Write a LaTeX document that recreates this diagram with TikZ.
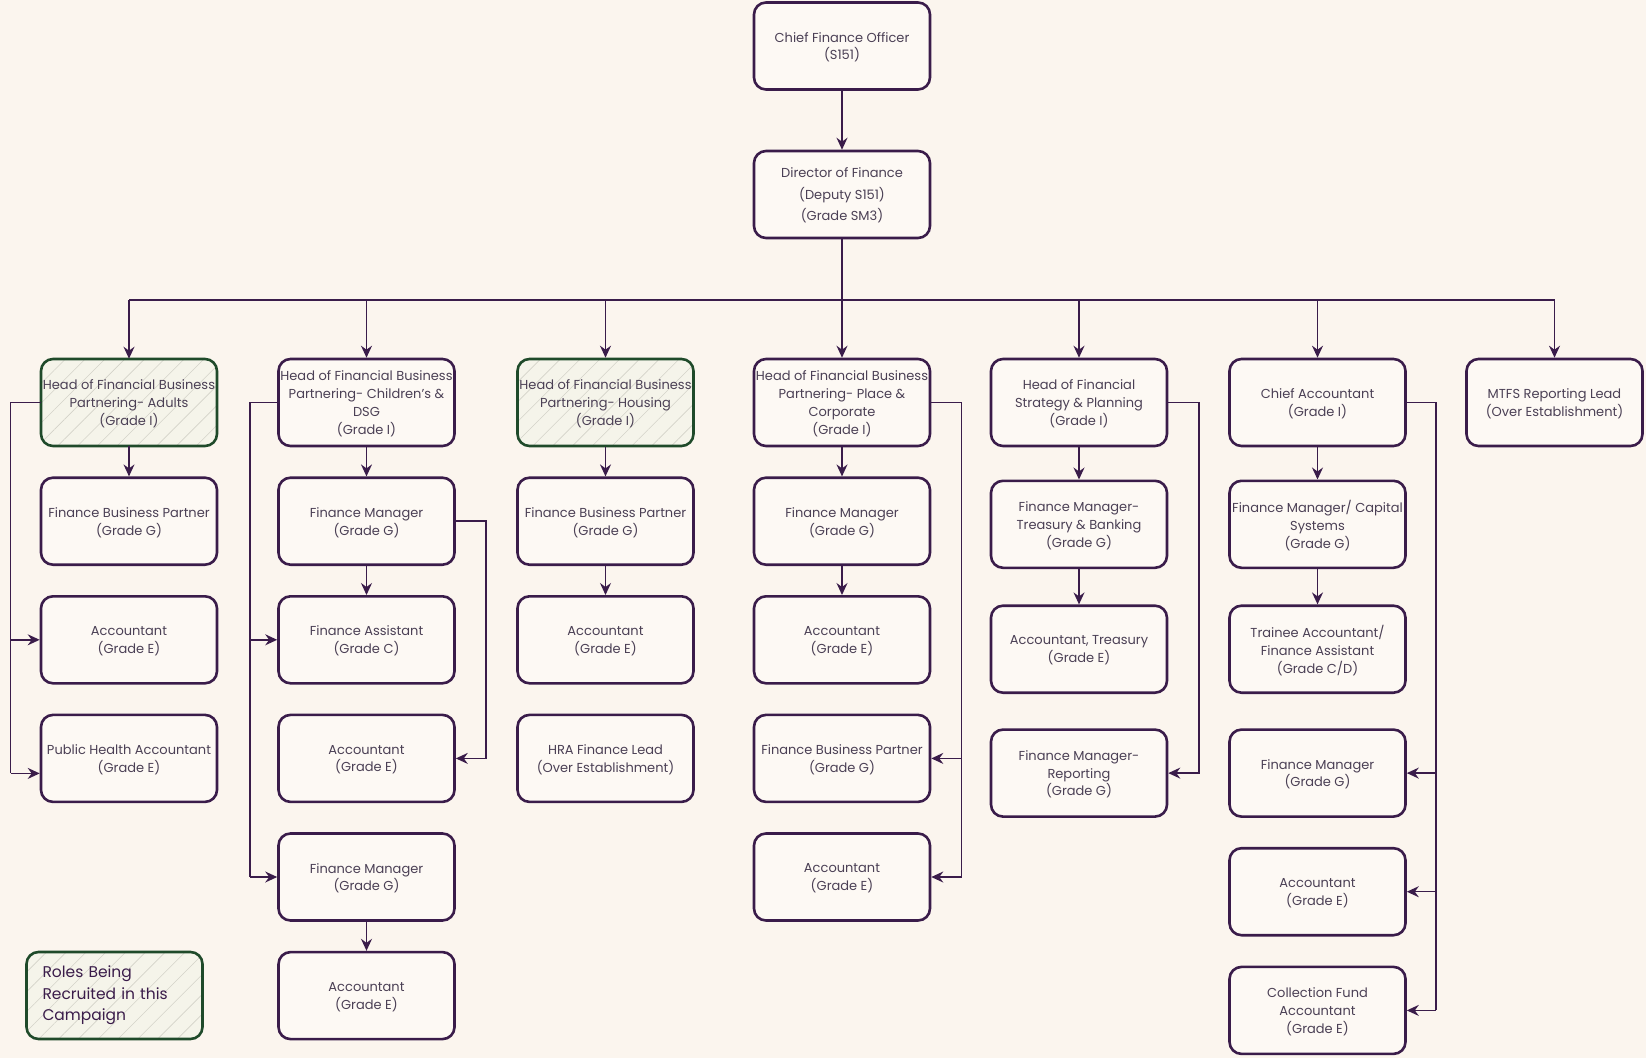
\documentclass[tikz,border=0pt]{standalone}
\usepackage{fontspec}
\setmainfont{Poppins}
\usetikzlibrary{arrows.meta,patterns.meta}
\definecolor{bgc}{HTML}{FBF5EE}
\definecolor{boxbg}{HTML}{FDF9F4}
\definecolor{bordc}{HTML}{3A1C4A}
\definecolor{txtc}{HTML}{4B4055}
\definecolor{greenc}{HTML}{1F4A2A}
\definecolor{hatchbg}{HTML}{F5F4EA}
\definecolor{hatchln}{HTML}{D3D2C8}
\tikzset{
  boxbase/.style={draw=bordc, line width=2.6pt, rounded corners=12pt, fill=boxbg,
    minimum width=176pt, minimum height=87pt, align=center, text=txtc,
    inner sep=1pt, font=\fontsize{13}{17.8}\selectfont},
  box/.style={boxbase, text depth=0pt},
  hatched/.style={draw=greenc, fill=none, preaction={fill=hatchbg},
    pattern={Lines[angle=45,distance=14pt,line width=0.6pt]}, pattern color=hatchln},
  recruit/.style={box, hatched},
  conn/.style={draw=bordc, line width=1.5pt},
  arr/.style={conn, -{Stealth[length=12pt,width=11pt,inset=4pt]}},
}
\begin{document}
\begin{tikzpicture}[x=1pt,y=-1pt]
\fill[bgc] (0,0) rectangle (1646,1058);
\useasboundingbox (0,0) rectangle (1646,1058);

% top
\node[box] (cfo) at (842,46) {Chief Finance Officer\\(S151)};
\node[box, font=\fontsize{13}{21.5}\selectfont] (dir) at (842,194.5) {Director of Finance\\(Deputy S151)\\(Grade SM3)};

% row 1
\node[recruit] (a1) at (129,402.5) {Head of Financial Business\\Partnering- Adults\\(Grade I)};
\node[box] (b1) at (366.5,402.5) {Head of Financial Business\\Partnering- Children's \&\\DSG\\(Grade I)};
\node[recruit] (c1) at (605.5,402.5) {Head of Financial Business\\Partnering- Housing\\(Grade I)};
\node[box] (d1) at (842,402.5) {Head of Financial Business\\Partnering- Place \&\\Corporate\\(Grade I)};
\node[box] (e1) at (1079,402.5) {Head of Financial\\Strategy \& Planning\\(Grade I)};
\node[box] (f1) at (1317.5,402.5) {Chief Accountant\\(Grade I)};
\node[box] (g1) at (1554.5,402.5) {MTFS Reporting Lead\\(Over Establishment)};

% column 1
\node[box] (a2) at (129,521.2) {Finance Business Partner\\(Grade G)};
\node[box] (a3) at (129,639.8) {Accountant\\(Grade E)};
\node[box] (a4) at (129,758.4) {Public Health Accountant\\(Grade E)};

% column 2
\node[box] (b2) at (366.5,521.2) {Finance Manager\\(Grade G)};
\node[box] (b3) at (366.5,639.8) {Finance Assistant\\(Grade C)};
\node[box] (b4) at (366.5,758.4) {Accountant\\(Grade E)};
\node[box] (b5) at (366.5,877) {Finance Manager\\(Grade G)};
\node[box] (b6) at (366.5,995.6) {Accountant\\(Grade E)};

% column 3
\node[box] (c2) at (605.5,521.2) {Finance Business Partner\\(Grade G)};
\node[box] (c3) at (605.5,639.8) {Accountant\\(Grade E)};
\node[box] (c4) at (605.5,758.4) {HRA Finance Lead\\(Over Establishment)};

% column 4
\node[box] (d2) at (842,521.2) {Finance Manager\\(Grade G)};
\node[box] (d3) at (842,639.8) {Accountant\\(Grade E)};
\node[box] (d4) at (842,758.4) {Finance Business Partner\\(Grade G)};
\node[box] (d5) at (842,877) {Accountant\\(Grade E)};

% column 5
\node[box] (e2) at (1079,524.3) {Finance Manager-\\Treasury \& Banking\\(Grade G)};
\node[box] (e3) at (1079,649.2) {Accountant, Treasury\\(Grade E)};
\node[box] (e4) at (1079,773.1) {Finance Manager-\\Reporting\\(Grade G)};

% column 6
\node[box] (f2) at (1317.5,524.3) {Finance Manager/ Capital\\Systems\\(Grade G)};
\node[box] (f3) at (1317.5,649.2) {Trainee Accountant/\\Finance Assistant\\(Grade C/D)};
\node[box] (f4) at (1317.5,773.1) {Finance Manager\\(Grade G)};
\node[box] (f5) at (1317.5,891.7) {Accountant\\(Grade E)};
\node[box] (f6) at (1317.5,1010.4) {Collection Fund\\Accountant\\(Grade E)};

% legend
\node[boxbase, hatched, align=left, text width=144pt, inner xsep=16pt, text=bordc,
  font=\fontsize{15.5}{21.5}\selectfont] (leg) at (114.5,995.5) {Roles Being\\Recruited in this\\Campaign};

% top connectors
\draw[arr] (cfo) -- (dir);
\coordinate (busL) at (129,300);
\coordinate (busR) at (1554.5,300);
\draw[conn] (busL) -- (busR);
\draw[arr] (dir.south) -- (d1.north);
\foreach \n in {a1,b1,c1,e1,f1,g1} {
  \draw[arr] (\n.north |- busL) -- (\n.north);
}

% vertical chains
\draw[arr] (a1) -- (a2);
\draw[arr] (b1) -- (b2);
\draw[arr] (b2) -- (b3);
\draw[arr] (b5) -- (b6);
\draw[arr] (c1) -- (c2);
\draw[arr] (c2) -- (c3);
\draw[arr] (d1) -- (d2);
\draw[arr] (d2) -- (d3);
\draw[arr] (e1) -- (e2);
\draw[arr] (e2) -- (e3);
\draw[arr] (f1) -- (f2);
\draw[arr] (f2) -- (f3);

% side trunks
\coordinate (ta) at (10.5,0);
\coordinate (a4w) at ([yshift=-15pt]a4.west);
\draw[conn] (a1.west) -| (ta |- a4w);
\draw[arr] (ta |- a3.west) -- (a3.west);
\draw[arr] (ta |- a4w) -- (a4w);

\coordinate (tb) at (250,0);
\draw[conn] (b1.west) -| (tb |- b5.west);
\draw[arr] (tb |- b3.west) -- (b3.west);
\draw[arr] (tb |- b5.west) -- (b5.west);

\coordinate (tb2) at (486,0);
\draw[arr] (b2.east) -| (tb2 |- b4.east) -- (b4.east);

\coordinate (td) at (961.5,0);
\draw[conn] (d1.east) -| (td |- d5.east);
\draw[arr] (td |- d4.east) -- (d4.east);
\draw[arr] (td |- d5.east) -- (d5.east);

\coordinate (te) at (1199,0);
\draw[arr] (e1.east) -| (te |- e4.east) -- (e4.east);

\coordinate (tf) at (1436,0);
\draw[conn] (f1.east) -| (tf |- f6.east);
\draw[arr] (tf |- f4.east) -- (f4.east);
\draw[arr] (tf |- f5.east) -- (f5.east);
\draw[arr] (tf |- f6.east) -- (f6.east);
\end{tikzpicture}
\end{document}
